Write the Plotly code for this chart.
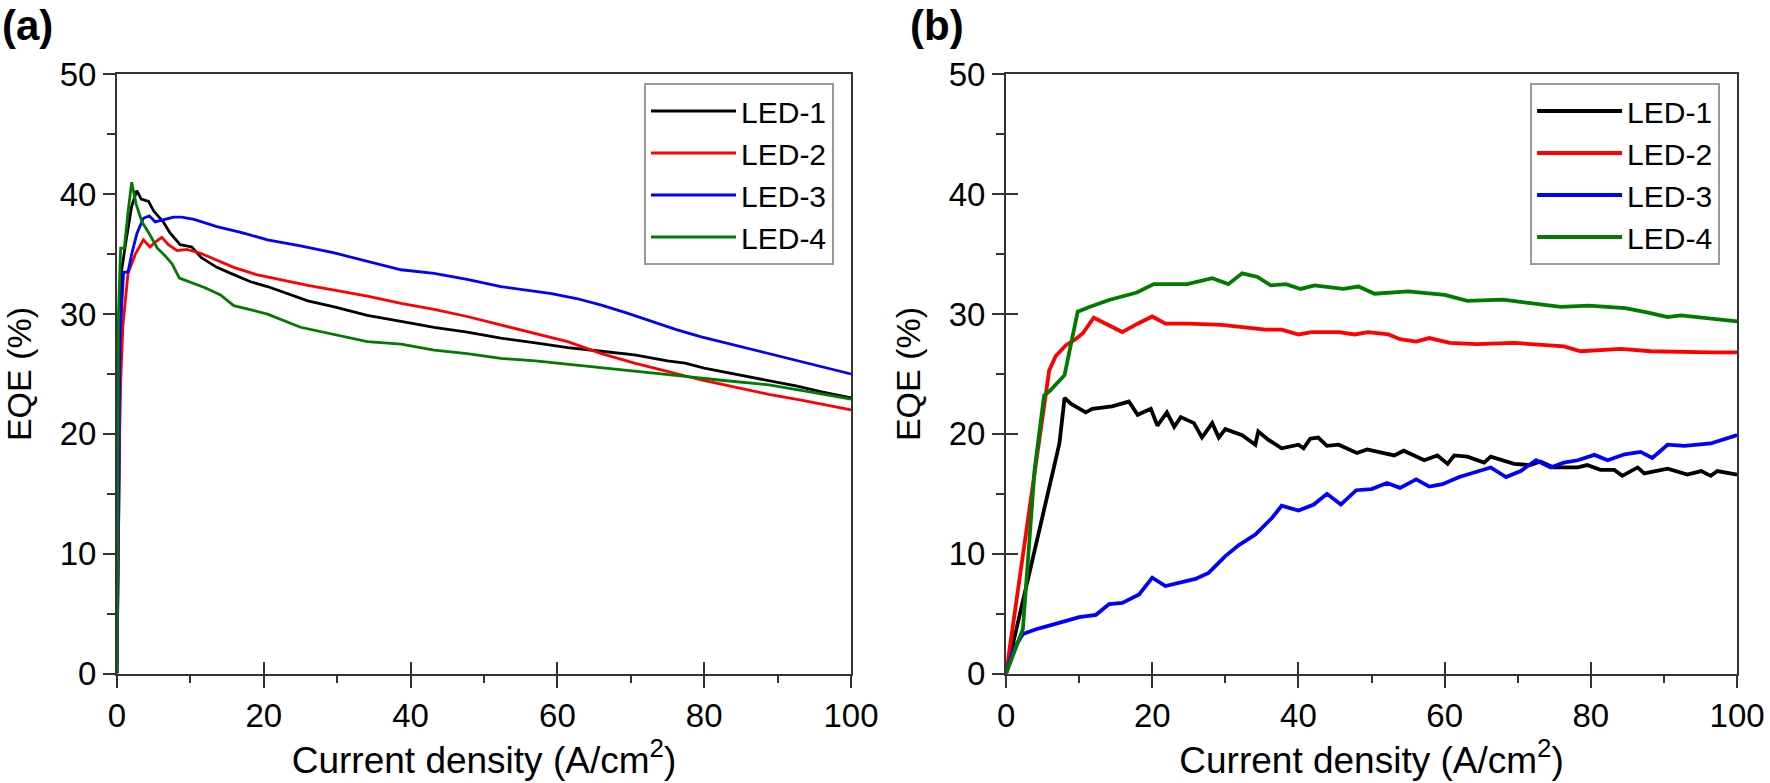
import plotly.graph_objects as go

# ---- panel (a): EQE vs current density ----
a_led1_x = [0, 0.3, 0.6, 1.2, 2.0, 2.7, 3.3, 4.3, 5.0, 6.3, 7.2, 8.6, 10.2, 11.5, 13.6, 15.5, 18.2, 20.5,
            23.6, 26, 29.6, 34.1, 38.7, 43.2, 47.7, 52.3, 57, 61.4, 66, 70.5, 75, 77.4, 80, 84.2, 88.8,
            92.5, 96, 100]
a_led1_y = [0, 20, 33.5, 36, 39, 40.3, 39.6, 39.4, 38.6, 37.7, 36.8, 35.8, 35.6, 34.7, 33.9, 33.4, 32.7,
            32.3, 31.6, 31.1, 30.6, 29.9, 29.4, 28.9, 28.5, 28.0, 27.6, 27.2, 26.9, 26.6, 26.1, 25.9, 25.5,
            25.0, 24.5, 24.0, 23.5, 23.0]

a_led2_x = [0, 0.4, 0.8, 1.5, 2.5, 3.6, 4.5, 5.2, 6.1, 7.0, 8.2, 9.5, 11.3, 13.5, 15.9, 19, 22.7, 26,
            29.6, 34.1, 38.7, 43.2, 47.7, 52.3, 56.8, 61.4, 66, 70.5, 75.1, 79.6, 84.2, 88.8, 93.4, 100]
a_led2_y = [0, 22.8, 29, 33.4, 35.0, 36.2, 35.6, 36.0, 36.4, 35.8, 35.3, 35.4, 35.1, 34.5, 33.9, 33.3,
            32.8, 32.4, 32.0, 31.5, 30.9, 30.4, 29.8, 29.1, 28.4, 27.7, 26.7, 25.9, 25.2, 24.5, 23.9,
            23.3, 22.8, 22.0]

a_led3_x = [0, 0.4, 0.9, 1.5, 2.0, 2.7, 3.6, 4.4, 5.2, 6.5, 7.7, 8.8, 10.5, 13.6, 17, 20.5, 25, 29.6,
            34, 38.7, 43.2, 47.7, 52.3, 55.8, 59.2, 62.6, 66, 69.4, 72.8, 76.2, 79.6, 84.2, 88.8, 94.4, 100]
a_led3_y = [0, 28, 33.5, 33.5, 35.0, 36.7, 38.0, 38.2, 37.7, 37.9, 38.1, 38.1, 37.9, 37.3, 36.8, 36.2,
            35.7, 35.1, 34.4, 33.7, 33.4, 32.9, 32.3, 32.0, 31.7, 31.3, 30.75, 30.1, 29.4, 28.7, 28.1,
            27.4, 26.7, 25.9, 25.0]

a_led4_x = [0, 0.2, 0.5, 1.0, 1.5, 2.0, 2.6, 3.4, 4.5, 5.5, 6.5, 7.5, 8.5, 10.2, 12, 14.1, 15.9, 18,
            20.5, 25, 29.6, 34.1, 38.7, 43.2, 47.7, 52.3, 57, 61.5, 66, 70.5, 75, 77.4, 82, 88.8, 94.4, 100]
a_led4_y = [0, 30, 35.5, 35.5, 38.5, 41.0, 39.2, 37.7, 36.6, 35.5, 34.9, 34.2, 33.0, 32.6, 32.2, 31.6,
            30.7, 30.4, 30.0, 28.9, 28.3, 27.7, 27.5, 27.0, 26.7, 26.3, 26.1, 25.8, 25.5, 25.2, 24.9,
            24.8, 24.5, 24.1, 23.5, 22.9]

# ---- panel (b) ----
b_led1_x = [0, 7.3, 8.0, 8.9, 10.9, 11.8, 14.5, 16.8, 18.0, 19.8, 20.7, 22.0, 23.0, 23.9, 25.7, 26.8,
            28.2, 29.1, 30.0, 32.3, 34.1, 34.5, 35.9, 37.7, 40.0, 40.7, 41.6, 42.7, 43.9, 45.5, 48.0,
            49.4, 53.1, 54.4, 57.2, 59.0, 60.4, 61.3, 63.1, 65.4, 66.3, 69.5, 71.7, 73.1, 74.9, 78.2,
            79.5, 81.3, 83.2, 84.3, 86.4, 87.3, 90.5, 93.2, 95.1, 96.4, 97.3, 100]
b_led1_y = [0, 19.2, 23.0, 22.5, 21.8, 22.1, 22.3, 22.7, 21.6, 22.1, 20.7, 21.8, 20.6, 21.4, 20.9, 19.7,
            20.9, 19.7, 20.4, 19.9, 19.1, 20.2, 19.5, 18.8, 19.1, 18.8, 19.6, 19.7, 19.0, 19.1, 18.4,
            18.7, 18.2, 18.6, 17.8, 18.2, 17.5, 18.2, 18.1, 17.6, 18.1, 17.5, 17.4, 17.7, 17.2, 17.2,
            17.4, 17.0, 17.0, 16.5, 17.2, 16.7, 17.1, 16.6, 16.9, 16.5, 16.9, 16.6]

b_led2_x = [0, 5.9, 6.8, 8.2, 9.5, 10.5, 12.0, 14.1, 15.9, 18.0, 20.0, 21.8, 25.0, 29.5, 32.3, 35.5,
            37.7, 40.0, 41.8, 45.5, 47.7, 49.5, 52.3, 53.9, 56.1, 57.9, 60.7, 64.4, 69.5, 73.6, 76.3,
            78.6, 81.3, 84.1, 88.2, 92.8, 96.4, 100]
b_led2_y = [0, 25.3, 26.5, 27.4, 27.9, 28.4, 29.7, 29.1, 28.5, 29.2, 29.8, 29.2, 29.2, 29.1, 28.9, 28.7,
            28.7, 28.3, 28.5, 28.5, 28.3, 28.5, 28.3, 27.9, 27.7, 28.0, 27.6, 27.5, 27.6, 27.4, 27.3,
            26.9, 27.0, 27.1, 26.9, 26.8, 26.8, 26.8]

b_led3_x = [0, 1.0, 2.3, 4.1, 5.9, 10.0, 12.3, 14.1, 15.9, 18.2, 20.0, 21.8, 25.9, 27.7, 30.0, 31.8,
            34.1, 36.4, 37.7, 40.0, 42.1, 43.9, 45.8, 47.9, 50.0, 52.1, 53.9, 56.1, 57.9, 59.7, 62.0,
            66.3, 68.4, 70.4, 72.5, 74.5, 76.3, 78.2, 80.5, 82.3, 84.6, 86.8, 88.4, 90.5, 92.8, 96.4, 100]
b_led3_y = [0, 2.0, 3.3, 3.7, 4.0, 4.7, 4.9, 5.8, 5.9, 6.6, 8.0, 7.3, 7.9, 8.4, 9.8, 10.7, 11.6, 13.0,
            14.0, 13.6, 14.1, 15.0, 14.1, 15.3, 15.4, 15.9, 15.5, 16.2, 15.6, 15.8, 16.4, 17.2, 16.4,
            16.9, 17.8, 17.2, 17.6, 17.8, 18.25, 17.8, 18.3, 18.5, 18.0, 19.1, 19.0, 19.2, 19.9]

b_led4_x = [0, 2.3, 3.9, 5.2, 6.0, 8.0, 9.8, 11.4, 14.2, 17.9, 20.2, 24.8, 28.2, 30.4, 32.3, 34.4, 36.2,
            38.3, 40.3, 42.2, 46.1, 48.2, 50.4, 55, 60, 63.1, 68, 72, 75.9, 79.7, 84.7, 88, 90.5, 92.3,
            95, 97.3, 100]
b_led4_y = [0, 3.7, 17.0, 23.2, 23.6, 24.9, 30.2, 30.6, 31.2, 31.8, 32.5, 32.5, 33.0, 32.5, 33.4, 33.1,
            32.4, 32.5, 32.1, 32.4, 32.1, 32.3, 31.7, 31.9, 31.6, 31.1, 31.2, 30.9, 30.6, 30.7, 30.5,
            30.1, 29.75, 29.9, 29.7, 29.6, 29.4]

names = ["LED-1", "LED-2", "LED-3", "LED-4"]
colors = ["#000000", "#ff0000", "#0000ff", "#007a00"]

FONT = "Liberation Sans, Arial, sans-serif"
AXIS = "#333333"

fig = go.Figure()

panel_a = [(a_led1_x, a_led1_y), (a_led2_x, a_led2_y), (a_led3_x, a_led3_y), (a_led4_x, a_led4_y)]
panel_b = [(b_led1_x, b_led1_y), (b_led2_x, b_led2_y), (b_led3_x, b_led3_y), (b_led4_x, b_led4_y)]

for name, color, (xs, ys) in zip(names, colors, panel_a):
    fig.add_trace(go.Scatter(x=xs, y=ys, mode="lines", name=name, line=dict(color=color, width=2.8),
                             xaxis="x", yaxis="y", legend="legend"))
for name, color, (xs, ys) in zip(names, colors, panel_b):
    fig.add_trace(go.Scatter(x=xs, y=ys, mode="lines", name=name, line=dict(color=color, width=3.8),
                             xaxis="x2", yaxis="y2", legend="legend2"))

# empty traces so the overlay axes (inner half of crossing ticks) get drawn
fig.add_trace(go.Scatter(x=[], y=[], xaxis="x3", yaxis="y", showlegend=False, hoverinfo="skip"))
fig.add_trace(go.Scatter(x=[], y=[], xaxis="x4", yaxis="y4", showlegend=False, hoverinfo="skip"))

dom_y = [0.1398, 0.9049]
dom_a = [0.0661, 0.4808]
dom_b = [0.5684, 0.9814]


def main_axis(**kw):
    base = dict(
        range=[0, 100], showline=True, mirror=True, linecolor=AXIS, linewidth=2,
        ticks="outside", ticklen=12, tickwidth=2, tickcolor=AXIS,
        showgrid=False, zeroline=False, automargin=False,
        tickfont=dict(size=33, color="black", family=FONT),
    )
    base.update(kw)
    return base


def inner_ticks(**kw):
    base = dict(
        range=[0, 100], showline=False, showgrid=False, zeroline=False, automargin=False,
        ticks="inside", ticklen=12, tickwidth=2, tickcolor=AXIS, showticklabels=False,
    )
    base.update(kw)
    return base


xtitle = dict(text="Current density (A/cm<sup>2</sup>)", font=dict(size=37, family=FONT, color="black"),
              standoff=10)
ytitle = dict(text="EQE (%)", font=dict(size=34, family=FONT, color="black"), standoff=18)

legend_style = dict(xanchor="right", yanchor="top", bgcolor="white", bordercolor="#9a9a9a",
                    borderwidth=2, itemwidth=85, tracegroupgap=0,
                    font=dict(size=30, family=FONT, color="black"))

fig.update_layout(
    width=1770, height=783,
    margin=dict(l=0, r=0, t=0, b=0, autoexpand=False),
    paper_bgcolor="white", plot_bgcolor="white",
    font=dict(family=FONT, color="black"),
    xaxis=main_axis(domain=dom_a, anchor="y", dtick=20, title=xtitle,
                    minor=dict(dtick=10, ticks="outside", ticklen=7, tickwidth=2, tickcolor=AXIS)),
    yaxis=main_axis(domain=dom_y, anchor="x", range=[0, 50], dtick=10, title=ytitle,
                    minor=dict(dtick=5, ticks="outside", ticklen=8, tickwidth=2, tickcolor=AXIS)),
    xaxis2=main_axis(domain=dom_b, anchor="y2", dtick=20, title=xtitle,
                     minor=dict(dtick=10, ticks="outside", ticklen=7, tickwidth=2, tickcolor=AXIS)),
    yaxis2=main_axis(domain=dom_y, anchor="x2", range=[0, 50], dtick=10, title=ytitle,
                     minor=dict(dtick=5, ticks="outside", ticklen=8, tickwidth=2, tickcolor=AXIS)),
    xaxis3=inner_ticks(domain=dom_a, anchor="y", overlaying="x", dtick=20),
    xaxis4=inner_ticks(domain=dom_b, anchor="y4", overlaying="x2", dtick=20),
    yaxis4=inner_ticks(domain=dom_y, anchor="x4", overlaying="y2", range=[0, 50], dtick=10),
    legend=dict(x=0.4712, y=0.894, **legend_style),
    legend2=dict(x=0.9718, y=0.894, **legend_style),
    annotations=[
        dict(text="<b>(a)</b>", x=0, y=1, xref="paper", yref="paper", xanchor="left", yanchor="top",
             showarrow=False, font=dict(size=42, family=FONT, color="black")),
        dict(text="<b>(b)</b>", x=0.513, y=1, xref="paper", yref="paper", xanchor="left", yanchor="top",
             showarrow=False, font=dict(size=42, family=FONT, color="black")),
    ],
)

# drop the browser's default 8px body margin so the figure fills the window exactly
fig.write_html("out.html", config={"displayModeBar": False},
               post_script="document.body.style.margin='0';")
